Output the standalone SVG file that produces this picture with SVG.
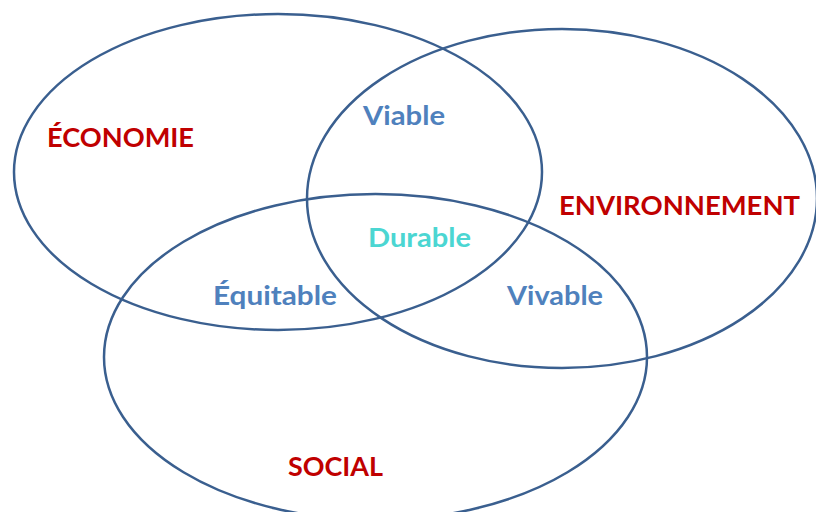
<svg xmlns="http://www.w3.org/2000/svg" width="816" height="512" viewBox="0 0 816 512">
<style>
.c{fill:none;stroke:#3a5f8f;stroke-width:2.5}
.t{font-family:Lato,"Open Sans","Liberation Sans",sans-serif;font-weight:bold;font-size:27px}
.r{fill:#c00000}
.b{fill:#4f81bd}
.d{fill:#4bd6d2}
</style>
<rect width="816" height="512" fill="#fff"/>
<g id="economie">
<ellipse class="c" cx="278" cy="172" rx="264" ry="158"/>
<text class="t r" x="47" y="147" textLength="147" lengthAdjust="spacingAndGlyphs">ÉCONOMIE</text>
</g>
<g id="environnement">
<ellipse class="c" cx="562" cy="198.5" rx="255" ry="169.5"/>
<text class="t r" x="559" y="215" textLength="241" lengthAdjust="spacingAndGlyphs">ENVIRONNEMENT</text>
</g>
<g id="social">
<ellipse class="c" cx="375.5" cy="357" rx="271.5" ry="163"/>
<text class="t r" x="288" y="476" textLength="95" lengthAdjust="spacingAndGlyphs">SOCIAL</text>
</g>
<g id="viable"><text class="t b" x="363" y="125" textLength="82" lengthAdjust="spacingAndGlyphs">Viable</text></g>
<g id="durable"><text class="t d" x="368" y="247" textLength="103" lengthAdjust="spacingAndGlyphs">Durable</text></g>
<g id="equitable"><text class="t b" x="213" y="305" textLength="124" lengthAdjust="spacingAndGlyphs">Équitable</text></g>
<g id="vivable"><text class="t b" x="507" y="305" textLength="96" lengthAdjust="spacingAndGlyphs">Vivable</text></g>
<g id="connectors"/>
</svg>
